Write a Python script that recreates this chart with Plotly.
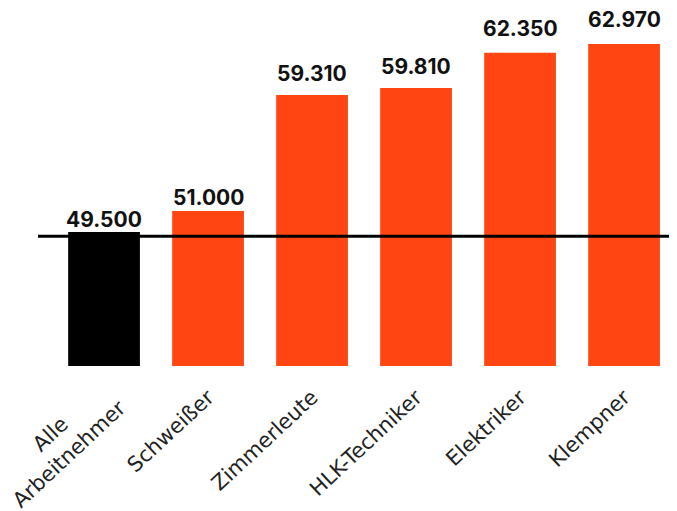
import plotly.graph_objects as go

categories = ["Alle<br>Arbeitnehmer", "Schweißer", "Zimmerleute", "HLK-Techniker", "Elektriker", "Klempner"]
values = [49500, 51000, 59310, 59810, 62350, 62970]
colors = ["#000000", "#FF4612", "#FF4612", "#FF4612", "#FF4612", "#FF4612"]
avg_line = 49200
y_base = 39900

labels = [f"{v:,}".replace(",", ".") for v in values]
x_pos = list(range(len(categories)))
tick_font = dict(family="DejaVu Sans", size=21, color="#222222")

fig = go.Figure()
fig.add_trace(go.Bar(
    x=x_pos,
    y=[v - y_base for v in values],
    base=y_base,
    marker=dict(color=colors, line=dict(width=0)),
    width=0.69,
    hoverinfo="skip",
))
fig.add_shape(type="line", xref="paper", yref="y", x0=0, x1=1, y0=avg_line, y1=avg_line,
              line=dict(color="#000000", width=3), layer="above")

for xi, v, lab in zip(x_pos, values, labels):
    fig.add_annotation(x=xi, y=v, xref="x", yref="y2", text=lab, showarrow=False,
                       yanchor="bottom", xanchor="center", yshift=-6,
                       font=dict(family="Inter", size=21, color="#111111", weight="bold"))

# multi-line category labels: centred lines, drawn as rotated annotations
ticktext = []
for xi, c in zip(x_pos, categories):
    if "<br>" in c:
        ticktext.append("")
        fig.add_annotation(x=xi, y=0, xref="x", yref="paper", text=c, showarrow=False,
                           textangle=-43, xanchor="center", yanchor="middle", align="center",
                           xshift=-45, yshift=-78, borderpad=0, font=tick_font)
    else:
        ticktext.append(c)

fig.update_layout(
    width=677, height=511,
    margin=dict(l=30, r=8, t=2, b=153, autoexpand=False),
    paper_bgcolor="white", plot_bgcolor="white",
    showlegend=False,
    xaxis=dict(
        tickmode="array", tickvals=x_pos, ticktext=ticktext,
        tickangle=-43, range=[-0.635, 5.509], automargin=False,
        tickfont=tick_font,
        ticklabelstandoff=14, ticklabeloverflow="allow",
        showgrid=False, zeroline=False, showline=False, ticks="",
    ),
    yaxis=dict(range=[y_base, 65407], visible=False, showgrid=False, zeroline=False),
    yaxis2=dict(range=[40206, 64182], overlaying="y", visible=False, showgrid=False, zeroline=False),
)

fig.write_html("out.html")
